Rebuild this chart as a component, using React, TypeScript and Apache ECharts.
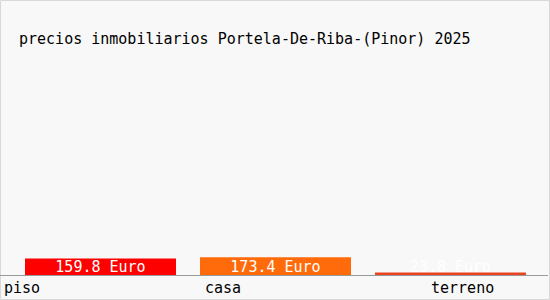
import React, { useEffect, useRef } from "react";
import * as echarts from "echarts";

const titleText = "precios inmobiliarios Portela-De-Riba-(Pinor) 2025";
const categories = ["piso", "casa", "terreno"];
const values = [159.8, 173.4, 23.8];
const unit = "Euro";
const barColors = ["#ff0000", "#ff6a0a", "#e9431f"];
const labelX = [4, 205, 431];

const FONT = "'DejaVu Sans Mono', monospace";

export default function App() {
  const ref = useRef<HTMLDivElement>(null);
  useEffect(() => {
    if (!ref.current) return;
    const chart = echarts.init(ref.current, null, { renderer: "svg" });
    chart.setOption({
      animation: false,
      backgroundColor: "#f8f8f8",
      grid: { left: 13, right: 12, top: 69, bottom: 25 },
      xAxis: {
        type: "category",
        data: categories,
        axisLine: { show: false },
        axisTick: { show: false },
        axisLabel: { show: false },
      },
      yAxis: {
        type: "value",
        min: 0,
        max: 2000,
        show: false,
        splitLine: { show: false },
      },
      series: [
        {
          type: "bar",
          barWidth: 151,
          data: values.map((v, i) => ({ value: v, itemStyle: { color: barColors[i] } })),
          label: {
            show: true,
            position: "insideBottom",
            distance: 1,
            color: "#ffffff",
            fontFamily: FONT,
            fontSize: 15,
            formatter: (p: any) => `${p.value.toFixed(1)} ${unit}`,
          },
        },
      ],
      graphic: [
        {
          type: "rect",
          shape: { x: 0.5, y: 0.5, width: 549, height: 299 },
          style: { fill: "none", stroke: "#d8d8d8", lineWidth: 1 },
          silent: true,
        },
        {
          type: "line",
          shape: { x1: 0, y1: 275.5, x2: 548, y2: 275.5 },
          style: { stroke: "#999999", lineWidth: 1 },
          silent: true,
        },
        {
          type: "text",
          x: 19,
          y: 39,
          style: {
            text: titleText,
            fontFamily: FONT,
            fontSize: 15,
            fill: "#000000",
            verticalAlign: "middle",
          },
        },
        ...categories.map((c, i) => ({
          type: "text",
          x: labelX[i],
          y: 288,
          style: {
            text: c,
            fontFamily: FONT,
            fontSize: 15,
            fill: "#000000",
            verticalAlign: "middle",
          },
        })),
      ],
    });
    return () => chart.dispose();
  }, []);
  return (
    <div
      ref={ref}
      style={{ position: "fixed", left: 0, top: 0, width: 550, height: 300 }}
    />
  );
}
